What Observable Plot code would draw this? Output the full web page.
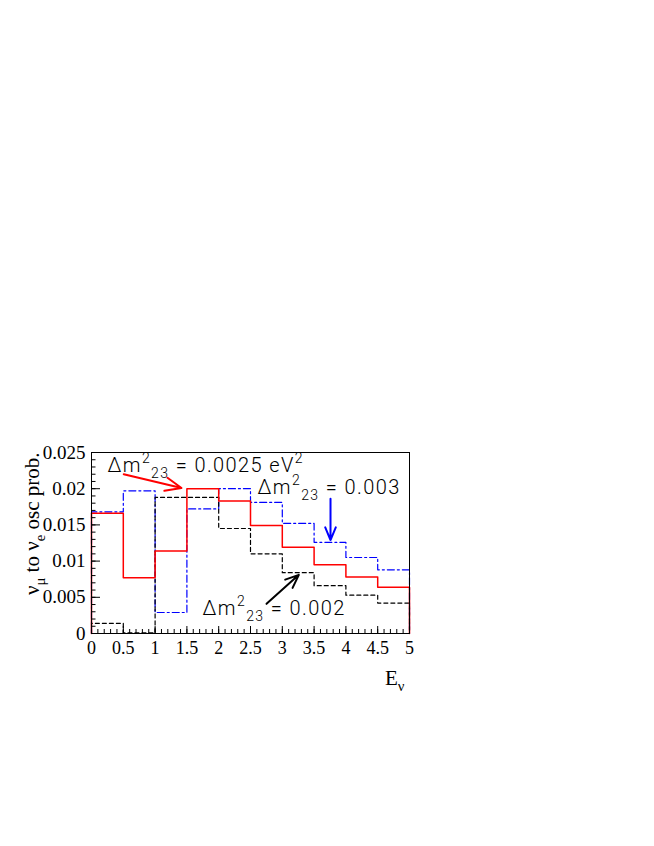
<!DOCTYPE html>
<html><head><meta charset="utf-8">
<script src="https://cdn.jsdelivr.net/npm/d3@7"></script>
<script src="https://cdn.jsdelivr.net/npm/@observablehq/plot@0.6"></script>
<style>html,body{margin:0;padding:0;background:#fff;}</style>
</head><body><div id="chart"></div>
<script>
// Histogram bin edges (E_nu) and oscillation probabilities per bin
const binEdges = [0, 0.5, 1, 1.5, 2, 2.5, 3, 3.5, 4, 4.5, 5];
const probDm0025 = [0.0166, 0.0077, 0.0114, 0.0200, 0.0183, 0.0149, 0.0119, 0.0095, 0.0078, 0.0064];
const probDm003  = [0.0168, 0.0197, 0.0029, 0.0172, 0.0200, 0.0181, 0.0152, 0.0126, 0.0105, 0.0088];
const probDm002  = [0.0014, 0.0001, 0.0188, 0.0188, 0.0145, 0.0110, 0.0084, 0.0066, 0.0053, 0.0042];

// Axis ticks
const xTickValues = [0, 0.5, 1, 1.5, 2, 2.5, 3, 3.5, 4, 4.5, 5];
const xTickLabels = ["0", "0.5", "1", "1.5", "2", "2.5", "3", "3.5", "4", "4.5", "5"];
const xMinorTicks = d3.range(0, 51).map(i => i / 10);
const yTickValues = [0, 0.005, 0.01, 0.015, 0.02, 0.025];
const yTickLabels = ["0", "0.005", "0.01", "0.015", "0.02", "0.025"];
const yMinorTicks = d3.range(0, 26).map(i => i / 1000);

// Axis titles
const xTitle = "E_{ν}";
const yTitle = "ν_{μ} to ν_{e} osc prob.";

// Annotations
const annotationTexts = ["Δm^{2}_{23} = 0.0025 eV^{2}", "Δm^{2}_{23} = 0.003", "Δm^{2}_{23} = 0.002"];
const annotationX = [0.25, 2.61, 1.745];
const annotationY = [0.0223, 0.0192, 0.0025];
const arrowColors = ["#ff0000", "#0000ff", "#000000"];
const arrowX1 = [0.507, 3.758, 2.752];
const arrowY1 = [0.0220, 0.0186, 0.0041];
const arrowX2 = [1.415, 3.758, 3.26];
const arrowY2 = [0.0201, 0.0129, 0.0081];

function outline(vals) {
  const pts = [{x: binEdges[0], y: 0}];
  vals.forEach((v, i) => pts.push({x: binEdges[i], y: v}));
  const last = binEdges[binEdges.length - 1];
  pts.push({x: last, y: vals[vals.length - 1]});
  pts.push({x: last, y: 0});
  return pts;
}

const annotations = annotationTexts.map((t, i) => ({t, x: annotationX[i], y: annotationY[i]}));
const arrows = arrowColors.map((c, i) => ({c, x1: arrowX1[i], y1: arrowY1[i], x2: arrowX2[i], y2: arrowY2[i]}));

const W = 654, H = 846;
const chart = Plot.plot({
  width: W, height: H,
  marginLeft: 91, marginRight: 245, marginTop: 452, marginBottom: 213,
  style: {fontFamily: "'Liberation Serif', 'Times New Roman', serif", background: "white", color: "black"},
  x: {domain: [0, 5]},
  y: {domain: [0, 0.025]},
  marks: [
    Plot.line(outline(probDm003), {x: "x", y: "y", curve: "step-after", stroke: "#0000ff", strokeWidth: 1.2, strokeDasharray: "7,3,2,3"}),
    Plot.line(outline(probDm002), {x: "x", y: "y", curve: "step-after", stroke: "#000000", strokeWidth: 1.2, strokeDasharray: "4,3"}),
    Plot.line(outline(probDm0025), {x: "x", y: "y", curve: "step-after", stroke: "#ff0000", strokeWidth: 1.5}),
    Plot.frame({stroke: "black", strokeWidth: 1}),
    Plot.axisX(xMinorTicks, {anchor: "bottom", tickSize: -4, tickFormat: () => "", label: null}),
    Plot.axisX(xTickValues, {anchor: "bottom", tickSize: -7, tickPadding: 15, fontSize: 18,
      tickFormat: d => xTickLabels[xTickValues.indexOf(d)], label: null}),
    Plot.axisY(yMinorTicks, {anchor: "left", tickSize: -4.5, tickFormat: () => "", label: null}),
    Plot.axisY(yTickValues, {anchor: "left", tickSize: -9, tickPadding: 15, fontSize: 19,
      tickFormat: d => yTickLabels[yTickValues.indexOf(d)], label: null}),
    Plot.text([yTitle], {text: d => d, frameAnchor: "top-left", rotate: -90, textAnchor: "end",
      lineAnchor: "bottom", dx: -53, fontSize: 21}),
    Plot.text([xTitle], {text: d => d, frameAnchor: "bottom-right", textAnchor: "end",
      lineAnchor: "bottom", dx: -5, dy: 51, fontSize: 21}),
    Plot.text(annotations, {x: "x", y: "y", text: "t", textAnchor: "start", lineAnchor: "bottom",
      fontSize: 20, fontFamily: "Roboto", fontWeight: 300, fill: "black"}),
    Plot.arrow(arrows, {x1: "x1", y1: "y1", x2: "x2", y2: "y2", stroke: "c", strokeWidth: 2,
      headLength: 13, headAngle: 45})
  ]
});

function richify(svg) {
  svg.querySelectorAll("text").forEach(t => {
    const s = t.textContent;
    if (!/[\^_]\{/.test(s)) return;
    const holder = t.closest("[font-size]");
    const fs = holder ? parseFloat(holder.getAttribute("font-size")) : 10;
    const parts = s.split(/(\^\{[^}]*\}|_\{[^}]*\})/).filter(p => p !== "");
    t.textContent = "";
    let cur = 0;
    for (const p of parts) {
      let txt = p, target = 0, size = null;
      if (p.startsWith("^{")) { txt = p.slice(2, -1); target = -0.45 * fs; size = 0.7 * fs; }
      else if (p.startsWith("_{")) { txt = p.slice(2, -1); target = 0.3 * fs; size = 0.7 * fs; }
      const ts = document.createElementNS("http://www.w3.org/2000/svg", "tspan");
      const dy = target - cur;
      if (dy) ts.setAttribute("dy", dy.toFixed(2));
      if (size) ts.setAttribute("font-size", size.toFixed(2));
      ts.textContent = txt;
      t.appendChild(ts);
      cur = target;
    }
  });
}
richify(chart);
d3.select(chart).selectAll("g[font-family='Roboto'] text").attr("letter-spacing", 1.4);
document.getElementById("chart").appendChild(chart);
</script>
</body></html>
